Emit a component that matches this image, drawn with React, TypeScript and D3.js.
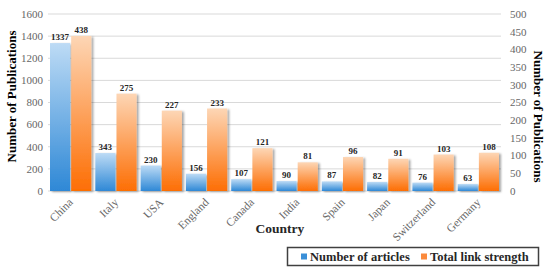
import React from 'react'
import * as d3 from 'd3'

const WIDTH = 550
const HEIGHT = 273
const MARGIN = { top: 14, right: 49, bottom: 82, left: 48 }

const countries = ['China', 'Italy', 'USA', 'England', 'Canada', 'India', 'Spain', 'Japan', 'Switzerland', 'Germany']
const articles = [1337, 343, 230, 156, 107, 90, 87, 82, 76, 63]
const linkStrength = [438, 275, 227, 233, 121, 81, 96, 91, 103, 108]
const leftTicks = [0, 200, 400, 600, 800, 1000, 1200, 1400, 1600]
const rightTicks = [0, 50, 100, 150, 200, 250, 300, 350, 400, 450, 500]

const FONT = "'Liberation Serif', 'Times New Roman', Times, serif"

export default function App() {
  const innerW = WIDTH - MARGIN.left - MARGIN.right
  const innerH = HEIGHT - MARGIN.top - MARGIN.bottom

  const x = d3.scaleBand().domain(countries).range([0, innerW])
  const sub = d3.scaleBand().domain(['a', 'b']).range([2, x.bandwidth() - 2]).paddingInner(0.05)
  const yLeft = d3.scaleLinear().domain([0, 1600]).range([innerH, 0])
  const yRight = d3.scaleLinear().domain([0, 500]).range([innerH, 0])

  return (
    <svg width={WIDTH} height={HEIGHT} style={{ position: 'absolute', left: 0, top: 0, background: '#fff', fontFamily: FONT }}>
      <defs>
        <linearGradient id="blueGrad" x1="0" y1="0" x2="0" y2="1">
          <stop offset="0%" stopColor="#bddbf5" />
          <stop offset="100%" stopColor="#2e88d6" />
        </linearGradient>
        <linearGradient id="orangeGrad" x1="0" y1="0" x2="0" y2="1">
          <stop offset="0%" stopColor="#fdd6b5" />
          <stop offset="100%" stopColor="#fd6e04" />
        </linearGradient>
        <filter id="shadow" x="-20%" y="-10%" width="150%" height="130%">
          <feDropShadow dx="2" dy="1" stdDeviation="1.2" floodColor="#000" floodOpacity="0.35" />
        </filter>
      </defs>

      <g transform={`translate(${MARGIN.left},${MARGIN.top})`}>
        {/* grid */}
        {leftTicks.map(t => (
          <line key={t} x1={0} x2={innerW} y1={yLeft(t)} y2={yLeft(t)} stroke="#d9d9d9" strokeWidth={1} />
        ))}

        {/* left axis labels */}
        {leftTicks.map(t => (
          <text key={t} x={-5} y={yLeft(t)} dy="0.35em" textAnchor="end" fontSize={11} fill="#666">{t}</text>
        ))}
        {/* right axis labels */}
        {rightTicks.map(t => (
          <text key={t} x={innerW + 9} y={yRight(t)} dy="0.35em" textAnchor="start" fontSize={11} fill="#666">{t}</text>
        ))}

        {/* bars */}
        {countries.map((c, i) => {
          const x0 = x(c)!
          const bx = x0 + sub('a')!
          const ox = x0 + sub('b')!
          const w = sub.bandwidth()
          const by = yLeft(articles[i])
          const oy = yRight(linkStrength[i])
          return (
            <g key={c}>
              <rect x={bx} y={by} width={w} height={innerH - by} fill="url(#blueGrad)" filter="url(#shadow)" />
              <rect x={ox} y={oy} width={w} height={innerH - oy} fill="url(#orangeGrad)" filter="url(#shadow)" />
              <text x={bx + w / 2} y={by - 3} textAnchor="middle" fontSize={9} fontWeight="bold" fill="#262626">{articles[i]}</text>
              <text x={ox + w / 2} y={oy - 3} textAnchor="middle" fontSize={9} fontWeight="bold" fill="#262626">{linkStrength[i]}</text>
            </g>
          )
        })}

        {/* x labels */}
        {countries.map(c => {
          const cx = x(c)! + x.bandwidth() / 2 + 3
          return (
            <text key={c} transform={`translate(${cx},${innerH + 12}) rotate(-45)`} textAnchor="end" fontSize={11.5} fill="#666">{c}</text>
          )
        })}
      </g>

      {/* axis titles */}
      <text transform={`translate(16,${MARGIN.top + innerH / 2 - 6}) rotate(-90)`} textAnchor="middle" fontSize={13} fontWeight="bold" fill="#000">Number of Publications</text>
      <text transform={`translate(534,${MARGIN.top + innerH / 2 + 14}) rotate(90)`} textAnchor="middle" fontSize={13} fontWeight="bold" fill="#000">Number of Publications</text>
      <text x={280} y={233} textAnchor="middle" fontSize={13.5} fontWeight="bold" fill="#262626">Country</text>

      {/* legend */}
      <g>
        <rect x={287.5} y={247.5} width={251} height={18} fill="#fff" stroke="#404040" strokeWidth={1.5} />
        <rect x={301} y={253.5} width={6} height={6} fill="#3a8fd8" />
        <text x={310} y={260.5} fontSize={12.5} fontWeight="bold" fill="#262626">Number of articles</text>
        <rect x={421} y={253.5} width={6} height={6} fill="#fb8a3c" />
        <text x={430} y={260.5} fontSize={12.5} fontWeight="bold" fill="#262626">Total link strength</text>
      </g>
    </svg>
  )
}
